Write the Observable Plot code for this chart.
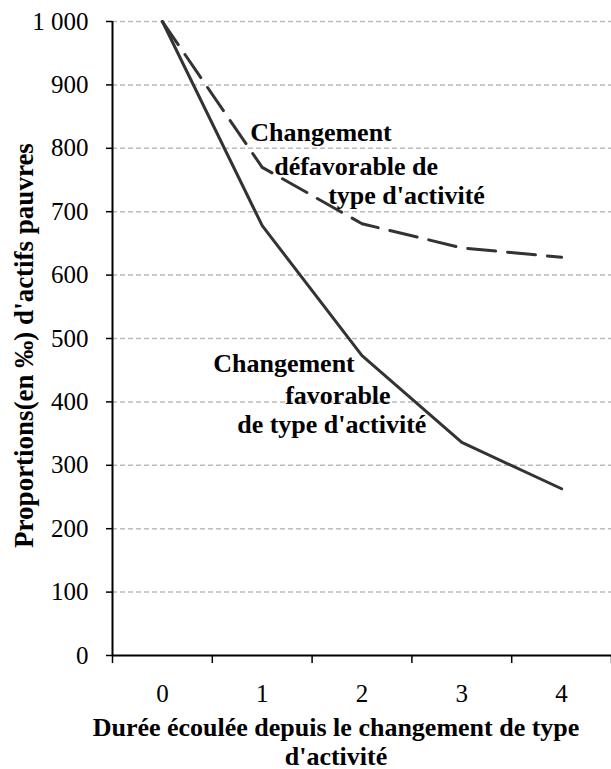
<!DOCTYPE html>
<html>
<head>
<meta charset="utf-8">
<script src="https://cdn.jsdelivr.net/npm/d3@7"></script>
<script src="https://cdn.jsdelivr.net/npm/@observablehq/plot@0.6"></script>
<style>
  html, body { margin: 0; padding: 0; background: #fff; }
  #chart svg { display: block; }
</style>
</head>
<body>
<div id="chart"></div>
<script>
// Data
const years = [0, 1, 2, 3, 4];
const favorable = [1000, 678, 473, 336, 263];
const defavorable = [1000, 770, 681, 643, 628];
const yTicks = [0, 100, 200, 300, 400, 500, 600, 700, 800, 900, 1000];
const xTickLabels = ["0", "1", "2", "3", "4"];
const bandEdges = [-0.5, 0.5, 1.5, 2.5, 3.5, 4.5];
const yTitle = "Proportions(en ‰) d'actifs pauvres";
const xTitle = "Durée écoulée depuis le changement de type\nd'activité";
const labelDefav = ["Changement", "défavorable de", "type d'activité"];
const labelFav = ["Changement", "favorable", "de type d'activité"];

const favData = years.map((x, i) => ({x, y: favorable[i]}));
const defData = years.map((x, i) => ({x, y: defavorable[i]}));
const fmt = d3.formatLocale({thousands: " ", grouping: [3], decimal: ","}).format(",");

const ink = "#333";
const ff = "Liberation Serif";
const ann = {textAnchor: "start", fontWeight: "bold", fontSize: 26, fontFamily: ff, fill: "#000"};

const chart = Plot.plot({
  width: 611,
  height: 769,
  marginLeft: 112,
  marginRight: 0,
  marginTop: 21,
  marginBottom: 114,
  style: {fontFamily: ff, fontSize: "25px", color: "#000", background: "#fff"},
  x: {type: "linear", domain: [-0.5, 4.5]},
  y: {domain: [0, 1000]},
  marks: [
    Plot.ruleY(yTicks.filter(d => d > 0), {stroke: "#bbb", strokeWidth: 1.5, strokeDasharray: "5,3"}),
    Plot.axisY(yTicks, {tickFormat: fmt, tickSize: 6, tickPadding: 18, label: null, fontSize: 25, fontFamily: ff, stroke: "#000", strokeWidth: 1.5}),
    Plot.axisX(bandEdges, {tickFormat: () => "", tickSize: 8, label: null, stroke: "#000", strokeWidth: 1.5}),
    Plot.axisX(years, {tickFormat: (d, i) => xTickLabels[i], tickSize: 0, tickPadding: 29, label: null, fontSize: 25, fontFamily: ff}),
    Plot.ruleX([-0.5], {stroke: "#000", strokeWidth: 2}),
    Plot.ruleY([0], {stroke: "#000", strokeWidth: 2}),
    Plot.line(defData, {x: "x", y: "y", stroke: ink, strokeWidth: 3, strokeDasharray: "28,12"}),
    Plot.line(favData, {x: "x", y: "y", stroke: ink, strokeWidth: 3}),
    // annotations
    Plot.text([labelDefav[0]], {x: 1, y: 825, dx: -12, ...ann}),
    Plot.text([labelDefav[1]], {x: 1, y: 771, dx: 12, ...ann}),
    Plot.text([labelDefav[2]], {x: 1, y: 725, dx: 66, ...ann}),
    Plot.text([labelFav[0]], {x: 1, y: 460, dx: -49, ...ann}),
    Plot.text([labelFav[1]], {x: 1, y: 410, dx: 23, ...ann}),
    Plot.text([labelFav[2]], {x: 1, y: 364, dx: -25, ...ann}),
    // axis titles
    Plot.text([yTitle], {frameAnchor: "left", textAnchor: "middle", lineAnchor: "middle", rotate: -90, dx: -88, dy: 7, fontWeight: "bold", fontSize: 27, fontFamily: ff, fill: "#000"}),
    Plot.text([xTitle], {frameAnchor: "bottom", textAnchor: "middle", lineAnchor: "middle", dx: -26, dy: 86, fontWeight: "bold", fontSize: 26, lineHeight: 1.12, fontFamily: ff, fill: "#000"})
  ]
});
document.getElementById("chart").appendChild(chart);
</script>
</body>
</html>
